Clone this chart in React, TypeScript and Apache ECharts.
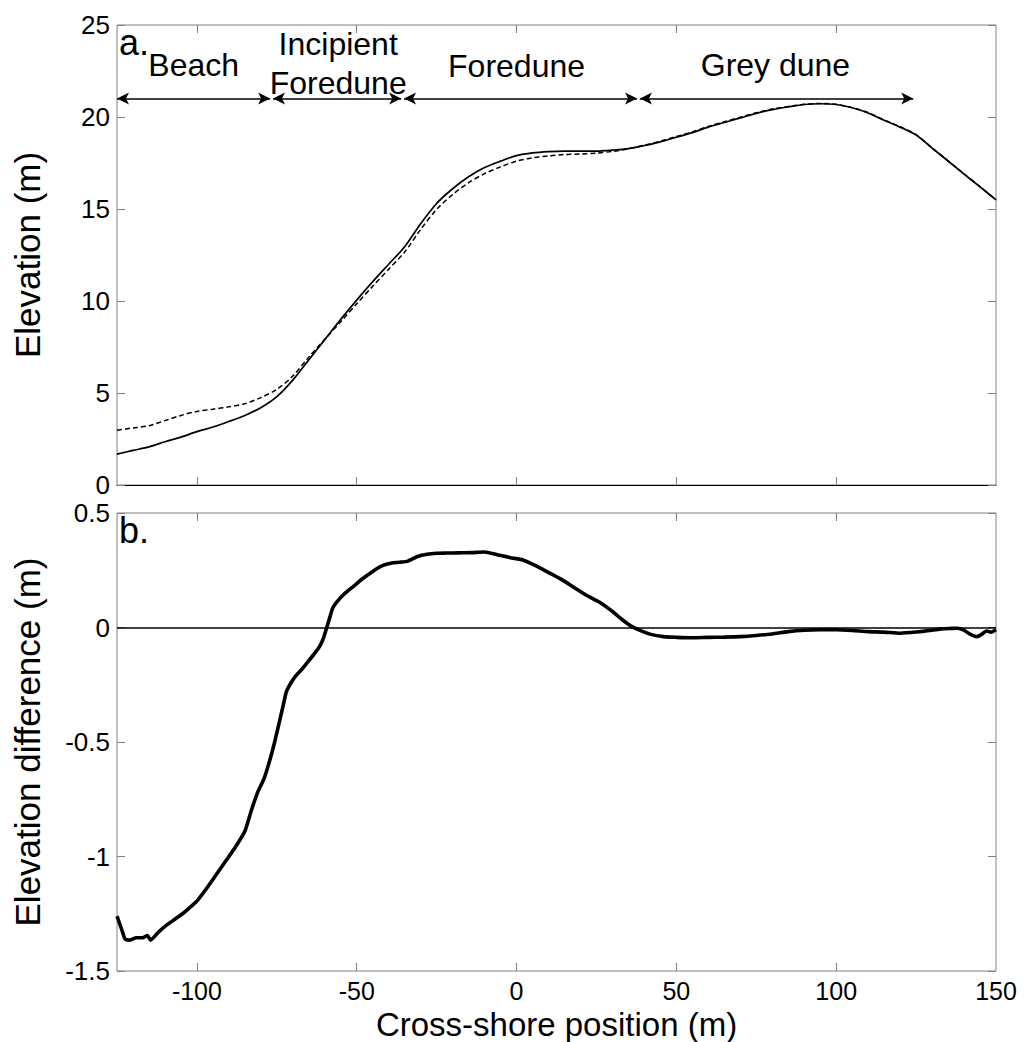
import React, { useEffect, useRef } from 'react';
import * as echarts from 'echarts';

// ---- Data ----
const profileX = [
  -125, -120, -115, -110, -105, -100, -95, -90, -85, -80, -75, -70, -65, -60, -55, -50, -45, -40, -35, -30,
  -25, -20, -15, -10, -5, 0, 5, 10, 15, 20, 25, 30, 35, 40, 45, 50, 55, 60, 65, 70,
  75, 80, 85, 90, 95, 100, 105, 110, 115, 120, 125, 130, 135, 140, 145, 150,
];
// solid profile
const elevationSolid = [
  1.68, 1.88, 2.07, 2.35, 2.6, 2.9, 3.15, 3.45, 3.78, 4.2, 4.8, 5.7, 6.8, 7.9, 9.0, 10.05, 11.05, 12.0, 12.95, 14.2,
  15.3, 16.1, 16.75, 17.25, 17.6, 17.9, 18.05, 18.12, 18.15, 18.15, 18.15, 18.2, 18.28, 18.45, 18.65, 18.9, 19.15, 19.45, 19.7, 19.95,
  20.2, 20.4, 20.55, 20.68, 20.72, 20.68, 20.5, 20.22, 19.82, 19.45, 19.02, 18.31, 17.61, 16.9, 16.2, 15.5,
];
// dashed profile
const elevationDashed = [
  2.98, 3.1, 3.22, 3.5, 3.78, 4.0, 4.12, 4.25, 4.42, 4.75, 5.2, 5.92, 6.95, 7.92, 8.87, 9.85, 10.8, 11.73, 12.66, 13.89,
  14.98, 15.78, 16.43, 16.92, 17.29, 17.6, 17.78, 17.88, 17.96, 17.99, 18.04, 18.13, 18.27, 18.47, 18.69, 18.94, 19.19, 19.49, 19.74, 19.99,
  20.23, 20.43, 20.57, 20.69, 20.73, 20.69, 20.51, 20.24, 19.84, 19.47, 19.04, 18.32, 17.62, 16.91, 16.22, 15.51,
];

const diffX = [
  -125, -123.5, -122.5, -121, -119, -117, -115.5, -114.5, -112, -109.5, -107, -104.5, -102, -100, -97, -94, -91, -88, -85, -83,
  -81, -79, -77, -75.5, -74, -73, -72, -70.5, -69, -67, -65, -63, -61.5, -60.5, -59.5, -58.5, -57.5, -56, -54, -51,
  -48, -45, -42, -39, -36.5, -34, -31, -28, -25, -22, -18, -14, -10, -6, -2, 2, 6, 10, 14, 18,
  22, 26, 30, 33, 36, 39, 42, 46, 50, 55, 60, 65, 70, 75, 80, 85, 90, 95, 100, 105,
  110, 115, 120, 125, 130, 133, 136, 138, 140, 142, 144, 145.5, 147, 148.5, 150,
];
const elevationDiff = [
  -1.26, -1.32, -1.36, -1.365, -1.355, -1.355, -1.345, -1.365, -1.33, -1.3, -1.275, -1.25, -1.22, -1.195, -1.14, -1.08, -1.02, -0.96, -0.89, -0.8,
  -0.72, -0.66, -0.57, -0.49, -0.4, -0.34, -0.28, -0.24, -0.21, -0.18, -0.145, -0.11, -0.08, -0.05, -0.005, 0.04, 0.085, 0.115, 0.145, 0.18,
  0.215, 0.245, 0.27, 0.282, 0.285, 0.29, 0.31, 0.32, 0.324, 0.325, 0.326, 0.327, 0.33, 0.318, 0.305, 0.295, 0.27, 0.24, 0.21, 0.175,
  0.14, 0.11, 0.07, 0.035, 0.005, -0.015, -0.03, -0.04, -0.043, -0.045, -0.043, -0.042, -0.04, -0.035, -0.028, -0.018, -0.012, -0.01, -0.01, -0.013,
  -0.018, -0.02, -0.025, -0.02, -0.012, -0.006, -0.004, -0.003, -0.012, -0.03, -0.04, -0.03, -0.015, -0.02, -0.01,
];

const xTickValues = [-100, -50, 0, 50, 100];
const xLabelValues = [-100, -50, 0, 50, 100, 150];

const zoneNames = ['Beach', 'Incipient\nForedune', 'Foredune', 'Grey dune'];
const zoneStart = [-125, -76.2, -35.2, 38.6];
const zoneEnd = [-77.1, -36.1, 37.7, 124.1];
const zoneLabelX = [-101, -55.8, 0, 81];
const zoneLabelY = [22.83, 22.9, 22.77, 22.83];
const arrowLevel = 21;

const FONT = '"Liberation Sans", Arial, Helvetica, sans-serif';
const FRAME = '#808080';

export default function App() {
  const ref = useRef<HTMLDivElement>(null);

  useEffect(() => {
    if (!ref.current) return;
    const chart = echarts.init(ref.current, undefined, { renderer: 'svg' });

    const tick = { show: true, inside: true, length: 8, lineStyle: { color: FRAME, width: 1 } };
    const xCommon = (gridIndex: number, position: 'top' | 'bottom') => ({
      type: 'value',
      gridIndex,
      position,
      min: -125,
      max: 150,
      splitLine: { show: false },
      axisLine: { show: false, onZero: false },
      axisTick: { ...tick, customValues: xTickValues },
      axisLabel: { show: false },
    });
    const yCommon = (gridIndex: number, position: 'left' | 'right', min: number, max: number, interval: number) => ({
      type: 'value',
      gridIndex,
      position,
      min,
      max,
      interval,
      splitLine: { show: false },
      axisLine: { show: false, onZero: false },
      axisTick: tick,
      axisLabel: { show: false },
    });

    const labelStyle = { show: true, fontSize: 26, color: '#000', fontFamily: FONT };
    const nameStyle = { fontSize: 35, color: '#000', fontFamily: FONT };

    const option: any = {
      animation: false,
      backgroundColor: '#fff',
      textStyle: { fontFamily: FONT },
      grid: [
        { left: 117, right: 28, top: 25, height: 460, show: true, borderColor: FRAME, borderWidth: 1, backgroundColor: 'transparent' },
        { left: 117, right: 28, top: 513, height: 459, show: true, borderColor: FRAME, borderWidth: 1, backgroundColor: 'transparent' },
      ],
      xAxis: [
        { ...xCommon(0, 'bottom'), axisLine: { show: true, onZero: false, lineStyle: { color: '#000', width: 1.2 } } },
        xCommon(0, 'top'),
        {
          ...xCommon(1, 'bottom'),
          axisLabel: { ...labelStyle, fontSize: 25, margin: 7, customValues: xLabelValues },
          name: 'Cross-shore position (m)',
          nameLocation: 'middle',
          nameGap: 37,
          nameTextStyle: { ...nameStyle, fontSize: 33 },
        },
        xCommon(1, 'top'),
      ],
      yAxis: [
        {
          ...yCommon(0, 'left', 0, 25, 5),
          axisLabel: { ...labelStyle, margin: 7 },
          name: 'Elevation (m)',
          nameLocation: 'middle',
          nameRotate: 90,
          nameGap: 72,
          nameTextStyle: nameStyle,
        },
        yCommon(0, 'right', 0, 25, 5),
        {
          ...yCommon(1, 'left', -1.5, 0.5, 0.5),
          axisLabel: { ...labelStyle, margin: 7 },
          name: 'Elevation difference (m)',
          nameLocation: 'middle',
          nameRotate: 90,
          nameGap: 72,
          nameTextStyle: nameStyle,
        },
        yCommon(1, 'right', -1.5, 0.5, 0.5),
      ],
      series: [
        {
          type: 'line',
          xAxisIndex: 0,
          yAxisIndex: 0,
          data: profileX.map((x, i) => [x, elevationSolid[i]]),
          symbol: 'none',
          smooth: 0.3,
          lineStyle: { color: '#000', width: 1.7 },
          silent: true,
        },
        {
          type: 'line',
          xAxisIndex: 0,
          yAxisIndex: 0,
          data: profileX.map((x, i) => [x, elevationDashed[i]]),
          symbol: 'none',
          smooth: 0.3,
          lineStyle: { color: '#000', width: 1.5, type: [5, 3] },
          silent: true,
        },
        {
          type: 'line',
          xAxisIndex: 0,
          yAxisIndex: 0,
          data: [],
          silent: true,
          markLine: {
            silent: true,
            symbol: ['arrow', 'arrow'],
            symbolSize: [9, 12],
            label: { show: false },
            lineStyle: { color: '#000', width: 1.5, type: 'solid' },
            emphasis: { disabled: true },
            data: zoneNames.map((_, i) => [
              { coord: [zoneStart[i], arrowLevel] },
              { coord: [zoneEnd[i], arrowLevel] },
            ]),
          },
          markPoint: {
            silent: true,
            symbol: 'circle',
            symbolSize: 0,
            label: {
              show: true,
              position: 'inside',
              formatter: '{b}',
              color: '#000',
              fontSize: 32,
              lineHeight: 39,
              fontFamily: FONT,
              align: 'center',
            },
            data: zoneNames.map((n, i) => ({ name: n, coord: [zoneLabelX[i], zoneLabelY[i]] })),
          },
        },
        {
          type: 'line',
          xAxisIndex: 2,
          yAxisIndex: 2,
          data: diffX.map((x, i) => [x, elevationDiff[i]]),
          symbol: 'none',
          smooth: 0.2,
          lineStyle: { color: '#000', width: 3.6 },
          silent: true,
          markLine: {
            silent: true,
            symbol: 'none',
            label: { show: false },
            lineStyle: { color: '#000', width: 1.6, type: 'solid' },
            emphasis: { disabled: true },
            data: [{ yAxis: 0 }],
          },
        },
      ],
      graphic: [
        { type: 'text', left: 119, top: 24, style: { text: 'a.', fontSize: 36, fill: '#000', fontFamily: FONT } },
        { type: 'text', left: 119, top: 512, style: { text: 'b.', fontSize: 36, fill: '#000', fontFamily: FONT } },
      ],
    };

    chart.setOption(option);
    return () => chart.dispose();
  }, []);

  return (
    <div
      ref={ref}
      style={{ position: 'absolute', left: 0, top: 0, width: 1024, height: 1042, background: '#fff' }}
    />
  );
}
